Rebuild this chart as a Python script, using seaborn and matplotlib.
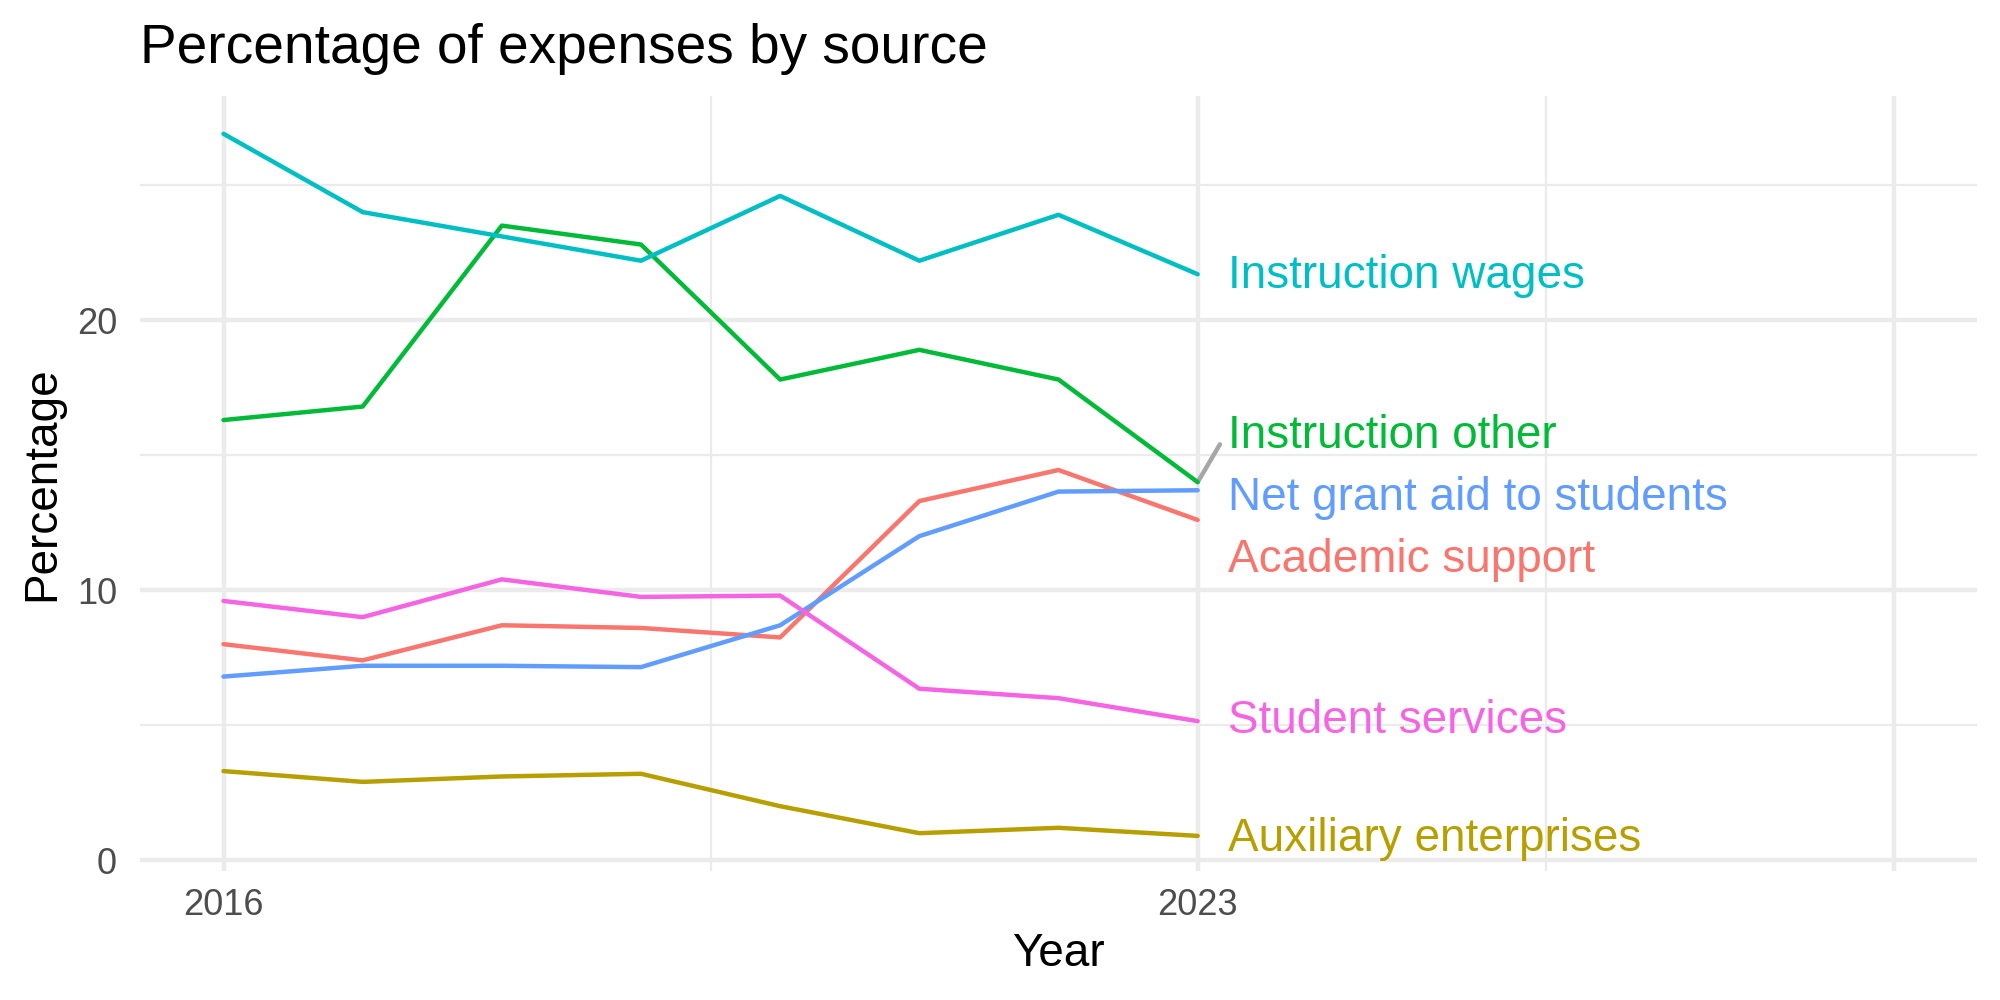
import matplotlib
matplotlib.use("Agg")
import matplotlib.pyplot as plt
import seaborn as sns
import pandas as pd
import numpy as np

years = [2016, 2017, 2018, 2019, 2020, 2021, 2022, 2023]
academic_support = [8.0, 7.4, 8.7, 8.6, 8.25, 13.3, 14.45, 12.6]
auxiliary_enterprises = [3.3, 2.9, 3.1, 3.2, 2.0, 1.0, 1.2, 0.9]
instruction_other = [16.3, 16.8, 23.5, 22.8, 17.8, 18.9, 17.8, 14.0]
instruction_wages = [26.9, 24.0, 23.1, 22.2, 24.6, 22.2, 23.9, 21.7]
net_grant_aid = [6.8, 7.2, 7.2, 7.15, 8.7, 12.0, 13.65, 13.7]
student_services = [9.6, 9.0, 10.4, 9.75, 9.8, 6.35, 6.0, 5.15]

categories = ["Academic support", "Auxiliary enterprises", "Instruction other",
              "Instruction wages", "Net grant aid to students", "Student services"]
series = [academic_support, auxiliary_enterprises, instruction_other,
          instruction_wages, net_grant_aid, student_services]
colors = ["#F8766D", "#B79F00", "#00BA38", "#00BFC4", "#619CFF", "#F564E3"]
# label vertical positions (after repel) in data units
label_y = [11.1, 0.8, 15.7, 21.65, 13.4, 5.15]
# which labels get a connector segment
has_segment = [False, False, True, False, False, False]

df = pd.DataFrame({
    "Year": np.tile(years, len(categories)),
    "Percentage": np.concatenate(series),
    "Source": np.repeat(categories, len(years)),
})

sns.set_theme(style="white")
plt.rcParams["font.family"] = ["Liberation Sans", "DejaVu Sans"]

fig = plt.figure(figsize=(10, 5), dpi=200)
ax = fig.add_axes([0.07, 0.129, 0.9185, 0.775])

sns.lineplot(data=df, x="Year", y="Percentage", hue="Source",
             palette=dict(zip(categories, colors)), linewidth=1.6,
             legend=False, ax=ax, zorder=3)

ax.set_xlim(2015.4, 2028.6)
ax.set_ylim(-0.4, 28.3)
ax.set_xticks([2016, 2023, 2028])
ax.set_xticklabels(["2016", "2023", ""])
ax.set_xticks([2019.5, 2025.5], minor=True)
ax.set_yticks([0, 10, 20])
ax.set_yticks([5, 15, 25], minor=True)
ax.grid(which="major", color="#EBEBEB", linewidth=1.6, zorder=0)
ax.grid(which="minor", color="#EBEBEB", linewidth=0.8, zorder=0)
ax.set_axisbelow(True)
for s in ax.spines.values():
    s.set_visible(False)
ax.tick_params(axis="both", which="both", length=0, labelsize=13,
               labelcolor="#4D4D4D")
ax.tick_params(axis="x", pad=6)
ax.tick_params(axis="y", pad=8.3)
ax.set_xlabel("Year", fontsize=16.5, color="black", labelpad=3.5)
ax.set_ylabel("Percentage", fontsize=16.5, color="black", labelpad=4.3)

# labels at end of lines
for cat, vals, col, ly, seg in zip(categories, series, colors, label_y, has_segment):
    if seg:
        ax.plot([years[-1], years[-1] + 0.16], [vals[-1], ly - 0.3],
                color="#A6A6A6", linewidth=1.6, zorder=2)
    ax.text(years[-1] + 0.22, ly, cat, color=col, fontsize=16.5,
            va="center", ha="left")

fig.text(0.07, 0.937, "Percentage of expenses by source", fontsize=19.8,
         ha="left", va="baseline", color="black")

fig.savefig("out.png", dpi=200, facecolor="white")
